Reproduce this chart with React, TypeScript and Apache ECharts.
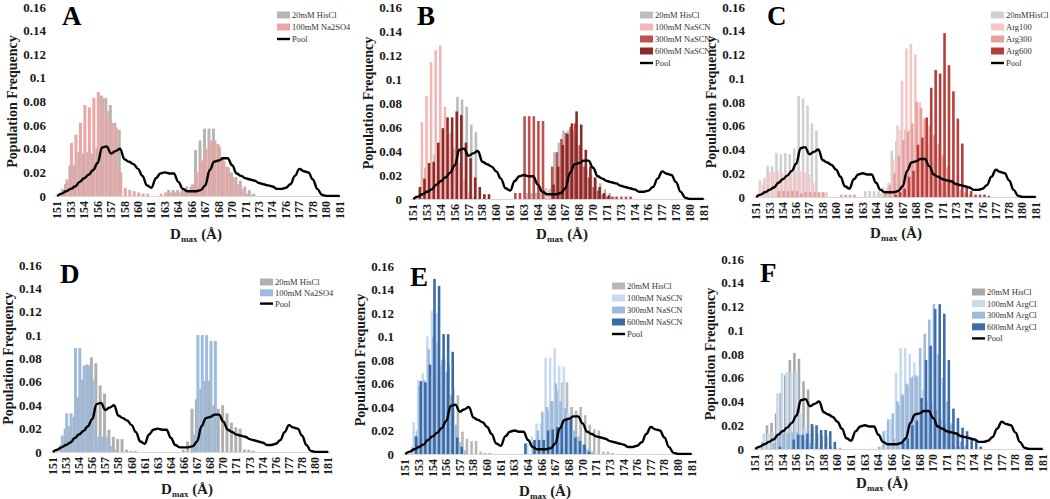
import React, { useEffect, useRef } from 'react';
import * as echarts from 'echarts';

// ---------- DATA ----------
const X_TICKS = ['151','153','154','156','157','158','160','161','163','164','166','167','168','170','171','173','174','176','177','178','180','181'];

const POOL = [
  0, 0.002, 0.004, 0.006, 0.008, 0.012, 0.015, 0.018, 0.022, 0.028, 0.041, 0.042, 0.036, 0.038, 0.040, 0.031,
  0.029, 0.027, 0.023, 0.017, 0.009, 0.007, 0.015, 0.019, 0.020, 0.019, 0.019, 0.012, 0.006, 0.004, 0.004, 0.004,
  0.005, 0.009, 0.022, 0.029, 0.030, 0.032, 0.032, 0.026, 0.019, 0.017, 0.015, 0.014, 0.013, 0.011, 0.010, 0.009,
  0.008, 0.006, 0.006, 0.007, 0.010, 0.017, 0.023, 0.021, 0.020, 0.014, 0.006, 0.001, 0, 0, 0, 0,
];

const HISCL_TOP = [
  0, 0.003, 0.010, 0.026, 0.026, 0.037, 0.036, 0.037, 0.036, 0.041, 0.085, 0.083, 0.077, 0.062, 0.056, 0,
  0, 0, 0, 0, 0, 0, 0, 0, 0, 0.005, 0.005, 0.005, 0.005, 0.008, 0.008, 0.039,
  0.047, 0.057, 0.057, 0.057, 0.044, 0.033, 0.025, 0.020, 0.016, 0.013, 0.008, 0.005, 0.002, 0, 0, 0,
  0, 0, 0, 0, 0, 0, 0, 0, 0, 0, 0, 0, 0, 0, 0, 0,
];

const NA2SO4_A = [
  0, 0.006, 0.014, 0.045, 0.052, 0.062, 0.077, 0.075, 0.083, 0.088, 0.083, 0.072, 0.062, 0.058, 0.020, 0.007,
  0.005, 0.004, 0.003, 0.002, 0.002, 0, 0, 0.002, 0.003, 0.003, 0.003, 0.003, 0.004, 0.005, 0.010, 0.020,
  0.030, 0.040, 0.047, 0.047, 0.042, 0.030, 0.024, 0.016, 0.010, 0.006, 0.002, 0.001, 0, 0, 0, 0,
  0, 0, 0, 0, 0, 0, 0, 0, 0, 0, 0, 0, 0, 0, 0, 0,
];

const NASCN100_B = [
  0, 0, 0.064, 0.086, 0.114, 0.124, 0.128, 0.077, 0.055, 0.042, 0.030, 0.016, 0.006, 0.002, 0, 0,
  0, 0, 0, 0, 0, 0, 0, 0, 0, 0, 0, 0, 0, 0.009, 0.009, 0.005,
  0, 0, 0, 0, 0, 0, 0, 0, 0, 0, 0, 0, 0, 0, 0, 0,
  0, 0, 0, 0, 0, 0, 0, 0, 0, 0, 0, 0, 0, 0, 0, 0,
];

const NASCN300_B = [
  0, 0, 0, 0, 0, 0, 0, 0, 0, 0, 0, 0, 0, 0, 0, 0,
  0, 0, 0, 0, 0, 0, 0.005, 0.005, 0.069, 0.069, 0.069, 0.065, 0.065, 0, 0.027, 0.039,
  0.050, 0.055, 0.060, 0.063, 0.045, 0.027, 0.018, 0.010, 0.007, 0.004, 0.002, 0.002, 0.002, 0.002, 0.002, 0.002,
  0, 0, 0, 0, 0, 0, 0, 0, 0, 0, 0, 0, 0, 0, 0, 0,
];

const NASCN600_B = [
  0, 0.010, 0.017, 0.030, 0.031, 0.047, 0.059, 0.068, 0.068, 0.073, 0.070, 0.047, 0.034, 0.018, 0.010, 0.004,
  0.004, 0, 0, 0, 0, 0, 0, 0, 0, 0, 0, 0, 0, 0, 0.012, 0.027,
  0.045, 0.054, 0.063, 0.073, 0.062, 0.041, 0.027, 0.018, 0.010, 0.005, 0.003, 0, 0, 0, 0, 0,
  0, 0, 0, 0, 0, 0, 0, 0, 0, 0, 0, 0, 0, 0, 0, 0,
];

const ARG100_C = [
  0, 0.014, 0.016, 0.021, 0.021, 0.021, 0.020, 0.020, 0.021, 0.022, 0.022, 0.021, 0.019, 0.012, 0.003, 0.004,
  0.004, 0, 0, 0, 0, 0, 0, 0, 0, 0, 0, 0, 0.003, 0.005, 0.012, 0.032,
  0.060, 0.098, 0.125, 0.129, 0.120, 0.080, 0.066, 0.045, 0.030, 0.018, 0.010, 0.005, 0.002, 0, 0, 0,
  0, 0, 0, 0, 0, 0, 0, 0, 0, 0, 0, 0, 0, 0, 0, 0,
];

const ARG300_C = [
  0, 0, 0, 0, 0, 0.005, 0.005, 0.005, 0.005, 0.005, 0.003, 0.004, 0.004, 0.004, 0.004, 0.004,
  0, 0, 0, 0.002, 0.002, 0.002, 0.002, 0, 0, 0, 0, 0, 0, 0.003, 0.010, 0.020,
  0.035, 0.048, 0.055, 0.062, 0.080, 0.075, 0.066, 0.060, 0.052, 0.045, 0.035, 0.025, 0.015, 0.010, 0.006, 0.004,
  0.002, 0, 0, 0, 0, 0, 0, 0, 0, 0, 0, 0, 0, 0, 0, 0,
];

const ARG600_C = [
  0, 0, 0, 0, 0, 0, 0, 0, 0, 0, 0, 0, 0, 0, 0, 0,
  0, 0, 0, 0, 0, 0, 0, 0, 0, 0, 0, 0, 0, 0, 0, 0.002,
  0.004, 0.007, 0.017, 0.022, 0.044, 0.050, 0.067, 0.092, 0.107, 0.104, 0.138, 0.111, 0.089, 0.066, 0.045, 0.009,
  0.005, 0.002, 0.002, 0.002, 0.001, 0, 0, 0, 0, 0, 0, 0, 0, 0, 0, 0,
];

const HISCL_BOTTOM = [
  0, 0.002, 0.006, 0.020, 0.022, 0.030, 0.047, 0.062, 0.075, 0.081, 0.076, 0.057, 0.050, 0.019, 0.013, 0.011,
  0.011, 0.002, 0.001, 0.001, 0, 0, 0, 0, 0, 0, 0, 0, 0, 0, 0.002, 0.009,
  0.037, 0.045, 0.054, 0.061, 0.061, 0.040, 0.037, 0.040, 0.033, 0.025, 0.021, 0.020, 0.002, 0.002, 0.001, 0,
  0, 0, 0, 0, 0, 0, 0, 0, 0, 0, 0, 0, 0, 0, 0, 0,
];

const NA2SO4_D = [
  0, 0, 0.014, 0.033, 0.033, 0.089, 0.089, 0.074, 0.074, 0.062, 0.013, 0.013, 0.013, 0.005, 0.002, 0,
  0, 0, 0, 0, 0, 0, 0, 0, 0, 0, 0, 0, 0, 0, 0, 0,
  0.015, 0.100, 0.100, 0.100, 0.095, 0.095, 0, 0, 0, 0, 0, 0, 0, 0, 0, 0,
  0, 0, 0, 0, 0, 0, 0, 0, 0, 0, 0, 0, 0, 0, 0, 0,
];

const NASCN100_E = [
  0, 0.003, 0.027, 0.063, 0.069, 0.100, 0.122, 0.120, 0.075, 0.060, 0.040, 0.020, 0.008, 0.003, 0, 0,
  0, 0, 0, 0, 0, 0, 0, 0, 0, 0, 0, 0.009, 0.015, 0.026, 0.026, 0.082,
  0.082, 0.090, 0.075, 0.074, 0.035, 0.020, 0.012, 0.008, 0.003, 0, 0, 0, 0, 0, 0, 0,
  0, 0, 0, 0, 0, 0, 0, 0, 0, 0, 0, 0, 0, 0, 0, 0,
];

const NASCN300_E = [
  0, 0, 0.015, 0.058, 0.063, 0.089, 0.100, 0.095, 0.080, 0.070, 0.050, 0.025, 0.010, 0.003, 0, 0,
  0, 0, 0, 0, 0, 0, 0, 0, 0, 0, 0, 0, 0.010, 0.020, 0.036, 0.040,
  0.045, 0.060, 0.045, 0.039, 0.028, 0.020, 0.015, 0.008, 0.004, 0.002, 0, 0, 0, 0, 0, 0,
  0, 0, 0, 0, 0, 0, 0, 0, 0, 0, 0, 0, 0, 0, 0, 0,
];

const NASCN600_E = [
  0, 0, 0.015, 0.062, 0.061, 0.076, 0.149, 0.143, 0.102, 0.102, 0.087, 0.014, 0.006, 0, 0, 0,
  0, 0, 0, 0, 0, 0, 0, 0, 0, 0, 0.009, 0, 0.012, 0.012, 0.012, 0.020,
  0.021, 0.023, 0.024, 0.029, 0.030, 0.014, 0.011, 0.008, 0.002, 0, 0, 0, 0, 0, 0, 0,
  0, 0, 0, 0, 0, 0, 0, 0, 0, 0, 0, 0, 0, 0, 0, 0,
];

const ARGCL100_F = [
  0, 0.003, 0.013, 0.013, 0.014, 0.047, 0.064, 0.065, 0.065, 0.065, 0.030, 0.018, 0.012, 0.005, 0.002, 0,
  0, 0, 0, 0, 0, 0, 0, 0, 0, 0, 0, 0, 0.003, 0.016, 0.025, 0.064,
  0.085, 0.085, 0.080, 0.073, 0.062, 0.050, 0.040, 0.030, 0.020, 0.010, 0.005, 0, 0, 0, 0, 0,
  0, 0, 0, 0, 0, 0, 0, 0, 0, 0, 0, 0, 0, 0, 0, 0,
];

const ARGCL300_F = [
  0, 0, 0, 0, 0.005, 0.010, 0.013, 0.013, 0.014, 0.014, 0.012, 0.008, 0.005, 0, 0, 0,
  0, 0, 0, 0, 0, 0, 0, 0, 0, 0, 0, 0.002, 0.015, 0.025, 0.030, 0.040,
  0.046, 0.055, 0.060, 0.062, 0.085, 0.097, 0.109, 0.122, 0.080, 0.060, 0.040, 0.022, 0.012, 0.006, 0.003, 0,
  0, 0, 0, 0, 0, 0, 0, 0, 0, 0, 0, 0, 0, 0, 0, 0,
];

const ARGCL600_F = [
  0, 0, 0, 0, 0, 0.002, 0, 0, 0.008, 0.012, 0.012, 0.013, 0.021, 0.020, 0.016, 0.016,
  0.015, 0.006, 0, 0, 0, 0, 0, 0, 0, 0, 0, 0, 0, 0, 0, 0,
  0.005, 0.009, 0.020, 0.024, 0.043, 0.075, 0.087, 0.118, 0.122, 0.114, 0.075, 0.034, 0.026, 0.018, 0.015, 0.009,
  0.008, 0.002, 0, 0, 0, 0, 0, 0, 0, 0, 0, 0, 0, 0, 0, 0,
];

// ---------- LAYOUT ----------
const SERIF = '"Liberation Serif", "Times New Roman", serif';
const INK = '#1a1a1a';

const CATEGORIES = POOL.map((_, i) =>
  i % 3 === 0 ? X_TICKS[i / 3] : `${X_TICKS[Math.floor(i / 3)]}+${i % 3}`
);

type Bar = { label: string; data: number[]; color: string };
type Panel = {
  key: string;
  grid: { left: number; top: number; width: number; height: number };
  legend: { left: number; top: number; pitch: number };
  letter: [number, number];
  xName: [number, number];
  yNameGap: number;
  barWidth: number;
  barGap: string;
  bars: Bar[];
};

const PANELS: Panel[] = [
  {
    key: 'A', grid: { left: 55, top: 7, width: 287, height: 189 },
    legend: { left: 277, top: 15, pitch: 12 }, letter: [62, 16], xName: [196, 233], yNameGap: 27,
    barWidth: 3, barGap: '-50%',
    bars: [
      { label: '20mM HisCl', data: HISCL_TOP, color: '#b5b5b5' },
      { label: '100mM Na2SO4', data: NA2SO4_A, color: '#eba6a4' },
    ],
  },
  {
    key: 'B', grid: { left: 411, top: 7, width: 295, height: 192 },
    legend: { left: 640, top: 15, pitch: 12 }, letter: [417, 16], xName: [562, 233], yNameGap: 24,
    barWidth: 2.6, barGap: '-50%',
    bars: [
      { label: '20mM HisCl', data: HISCL_TOP, color: '#bdbdbd' },
      { label: '100mM NaSCN', data: NASCN100_B, color: '#f2b8b7' },
      { label: '300mM NaSCN', data: NASCN300_B, color: '#c0504d' },
      { label: '600mM NaSCN', data: NASCN600_B, color: '#8c2a27' },
    ],
  },
  {
    key: 'C', grid: { left: 754, top: 7, width: 284, height: 190 },
    legend: { left: 991, top: 15, pitch: 12 }, letter: [767, 16], xName: [896, 232], yNameGap: 26,
    barWidth: 2.6, barGap: '-50%',
    bars: [
      { label: '20mMHisCl', data: HISCL_TOP, color: '#d0d0d0' },
      { label: 'Arg100', data: ARG100_C, color: '#f4c6c5' },
      { label: 'Arg300', data: ARG300_C, color: '#e6a09e' },
      { label: 'Arg600', data: ARG600_C, color: '#b63f3b' },
    ],
  },
  {
    key: 'D', grid: { left: 48.5, top: 265, width: 282, height: 187 },
    legend: { left: 260, top: 282, pitch: 10.8 }, letter: [60, 274], xName: [187, 488], yNameGap: 30,
    barWidth: 3, barGap: '-50%',
    bars: [
      { label: '20mM HisCl', data: HISCL_BOTTOM, color: '#b0b0b0' },
      { label: '100mM Na2SO4', data: NA2SO4_D, color: '#9dbbdf' },
    ],
  },
  {
    key: 'E', grid: { left: 403, top: 266, width: 291, height: 188 },
    legend: { left: 612, top: 286, pitch: 12 }, letter: [410, 277], xName: [545, 490], yNameGap: 30,
    barWidth: 2.6, barGap: '-50%',
    bars: [
      { label: '20mM HisCl', data: HISCL_BOTTOM, color: '#b8b8b8' },
      { label: '100mM NaSCN', data: NASCN100_E, color: '#c8daf0' },
      { label: '300mM NaSCN', data: NASCN300_E, color: '#9bbbe0' },
      { label: '600mM NaSCN', data: NASCN600_E, color: '#3a6aa3' },
    ],
  },
  {
    key: 'F', grid: { left: 753, top: 259, width: 292, height: 190 },
    legend: { left: 972, top: 292, pitch: 11.6 }, letter: [760, 273], xName: [882, 482], yNameGap: 29,
    barWidth: 2.6, barGap: '-50%',
    bars: [
      { label: '20mM HisCl', data: HISCL_BOTTOM, color: '#a9a9a9' },
      { label: '100mM ArgCl', data: ARGCL100_F, color: '#c8daf0' },
      { label: '300mM ArgCl', data: ARGCL300_F, color: '#9bbbe0' },
      { label: '600mM ArgCl', data: ARGCL600_F, color: '#3d6ea9' },
    ],
  },
];

function buildOption() {
  const grid: any[] = [];
  const xAxis: any[] = [];
  const yAxis: any[] = [];
  const series: any[] = [];
  const graphic: any[] = [];

  PANELS.forEach((p, k) => {
    grid.push({ ...p.grid, containLabel: false });
    xAxis.push({
      type: 'category', gridIndex: k, data: CATEGORIES,
      axisLine: { show: true, lineStyle: { color: '#d6d6d6', width: 1 } },
      axisTick: { show: false },
      splitLine: { show: false },
      axisLabel: {
        interval: 2, rotate: 90, margin: 5,
        fontFamily: SERIF, fontWeight: 'bold', fontSize: 12, color: INK,
      },
    });
    yAxis.push({
      type: 'value', gridIndex: k, min: 0, max: 0.16, interval: 0.02,
      axisLine: { show: false }, axisTick: { show: false }, splitLine: { show: false },
      axisLabel: {
        margin: 9, fontFamily: SERIF, fontWeight: 'bold', fontSize: 13, color: INK,
        formatter: (v: number) => String(Number(v.toFixed(2))),
      },
      name: 'Population Frequency', nameLocation: 'middle', nameGap: p.yNameGap,
      nameTextStyle: { fontFamily: SERIF, fontWeight: 'bold', fontSize: 14, color: INK },
    });
    p.bars.forEach((b) => {
      series.push({
        type: 'bar', name: `${p.key} ${b.label}`, xAxisIndex: k, yAxisIndex: k,
        data: b.data, barWidth: p.barWidth, barGap: p.barGap,
        itemStyle: { color: b.color }, silent: true,
      });
    });
    series.push({
      type: 'line', name: `${p.key} Pool`, xAxisIndex: k, yAxisIndex: k,
      data: POOL, smooth: 0.4, smoothMonotone: 'x', symbol: 'none', showSymbol: false,
      lineStyle: { color: '#000', width: 2.4 }, itemStyle: { color: '#000' }, z: 5, silent: true,
    });

    // legend drawn as graphic rows
    const L = p.legend;
    const rows: any[] = [];
    p.bars.forEach((b, r) => {
      const cy = L.top + r * L.pitch;
      rows.push({ type: 'rect', shape: { x: L.left, y: cy - 3.5, width: 13, height: 7 }, style: { fill: b.color }, silent: true });
      rows.push({
        type: 'text', x: L.left + 15, y: cy, silent: true,
        style: { text: b.label, font: `8.5px ${SERIF}`, fill: '#333', align: 'left', verticalAlign: 'middle' },
      });
    });
    const py = L.top + p.bars.length * L.pitch;
    rows.push({ type: 'line', shape: { x1: L.left, y1: py, x2: L.left + 13, y2: py }, style: { stroke: '#000', lineWidth: 2.4 }, silent: true });
    rows.push({
      type: 'text', x: L.left + 15, y: py, silent: true,
      style: { text: 'Pool', font: `8.5px ${SERIF}`, fill: '#333', align: 'left', verticalAlign: 'middle' },
    });
    graphic.push(...rows);

    graphic.push({
      type: 'text', x: p.letter[0], y: p.letter[1], silent: true,
      style: { text: p.key, font: `bold 27px ${SERIF}`, fill: '#000', align: 'left', verticalAlign: 'middle' },
    });
    graphic.push({
      type: 'text', x: p.xName[0], y: p.xName[1], silent: true,
      style: {
        text: '{d|D}{s|max}{d| (Å)}', align: 'center', verticalAlign: 'middle',
        rich: {
          d: { fontFamily: SERIF, fontWeight: 'bold', fontSize: 15, fill: INK, lineHeight: 14, verticalAlign: 'top' },
          s: { fontFamily: SERIF, fontWeight: 'bold', fontSize: 9, fill: INK, lineHeight: 10, verticalAlign: 'top', padding: [8, 0, 0, 0] },
        },
      },
    });
  });

  return { animation: false, backgroundColor: '#fff', grid, xAxis, yAxis, series, graphic };
}

export default function App() {
  const ref = useRef<HTMLDivElement>(null);
  useEffect(() => {
    if (!ref.current) return;
    const chart = echarts.init(ref.current, null, { renderer: 'svg', width: 1050, height: 499 });
    chart.setOption(buildOption() as any);
    return () => chart.dispose();
  }, []);
  return (
    <div
      ref={ref}
      style={{ position: 'fixed', left: 0, top: 0, width: 1050, height: 499, background: '#fff' }}
    />
  );
}
